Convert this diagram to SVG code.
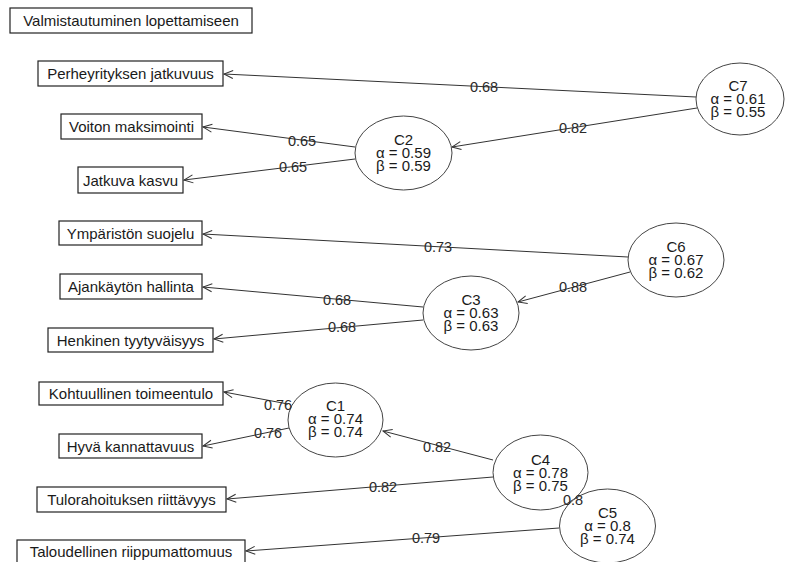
<svg xmlns="http://www.w3.org/2000/svg" width="786" height="562" viewBox="0 0 786 562">
<defs>
<marker id="arr" viewBox="-10 -6 12 12" markerWidth="12" markerHeight="12" refX="0" refY="0" orient="auto" markerUnits="userSpaceOnUse">
<path d="M-9,-4 L0,0 L-9,4" fill="none" stroke="#333" stroke-width="1"/>
</marker>
<style>
.box{fill:#fff;stroke:#222;stroke-width:1.2}
.ell{fill:#fff;stroke:#444;stroke-width:1}
.t{font-family:"Liberation Sans",Arial,sans-serif;font-size:15px;fill:#1a1a1a;text-anchor:middle}
.lab{font-family:"Liberation Sans",Arial,sans-serif;font-size:14.5px;fill:#2a2a2a;text-anchor:middle}
.e{fill:none;stroke:#333;stroke-width:1;marker-end:url(#arr)}
</style>
</defs>
<rect width="786" height="562" fill="#fff"/>
<g id="edges">
<line class="e" x1="696" y1="97" x2="224" y2="74"/>
<line class="e" x1="697" y1="108" x2="452" y2="147"/>
<line class="e" x1="355" y1="147" x2="203" y2="127"/>
<line class="e" x1="355" y1="159" x2="184" y2="180"/>
<line class="e" x1="628" y1="257" x2="203" y2="234"/>
<line class="e" x1="630" y1="272" x2="518" y2="302"/>
<line class="e" x1="423" y1="307" x2="203" y2="287"/>
<line class="e" x1="423" y1="320" x2="214" y2="339"/>
<line class="e" x1="288" y1="404" x2="224" y2="392"/>
<line class="e" x1="289" y1="428" x2="203" y2="446"/>
<line class="e" x1="493" y1="460" x2="383" y2="431"/>
<line class="e" x1="493" y1="477" x2="227" y2="499"/>
<line class="e" x1="567" y1="493" x2="574" y2="499"/>
<line class="e" x1="559" y1="528" x2="246" y2="551"/>
</g>
<g id="title"><rect class="box" x="10" y="8" width="242" height="25"/><text class="t" x="131" y="26">Valmistautuminen lopettamiseen</text></g>
<g id="n_perhe"><rect class="box" x="38" y="61" width="185" height="25"/><text class="t" x="130.5" y="79">Perheyrityksen jatkuvuus</text></g>
<g id="n_voiton"><rect class="box" x="61" y="114" width="141" height="25"/><text class="t" x="131.5" y="132">Voiton maksimointi</text></g>
<g id="n_jatkuva"><rect class="box" x="78" y="167" width="105" height="26"/><text class="t" x="130.5" y="185.5">Jatkuva kasvu</text></g>
<g id="n_ymp"><rect class="box" x="59" y="221" width="143" height="24"/><text class="t" x="130.5" y="238.5">Ympäristön suojelu</text></g>
<g id="n_ajan"><rect class="box" x="60" y="274" width="142" height="25"/><text class="t" x="131" y="292">Ajankäytön hallinta</text></g>
<g id="n_henk"><rect class="box" x="48" y="328" width="165" height="24"/><text class="t" x="130.5" y="345.5">Henkinen tyytyväisyys</text></g>
<g id="n_kohtu"><rect class="box" x="39" y="382" width="184" height="23"/><text class="t" x="131" y="399">Kohtuullinen toimeentulo</text></g>
<g id="n_hyva"><rect class="box" x="59" y="434" width="143" height="24"/><text class="t" x="130.5" y="451.5">Hyvä kannattavuus</text></g>
<g id="n_tulo"><rect class="box" x="37" y="487" width="189" height="25"/><text class="t" x="131.5" y="505">Tulorahoituksen riittävyys</text></g>
<g id="n_talo"><rect class="box" x="17" y="540" width="228" height="24"/><text class="t" x="131" y="557">Taloudellinen riippumattomuus</text></g>
<g id="C7"><ellipse class="ell" cx="740" cy="99" rx="44" ry="36"/><text class="t" x="738" y="91">C7</text><text class="t" x="738" y="104">α = 0.61</text><text class="t" x="738" y="117">β = 0.55</text></g>
<g id="C2"><ellipse class="ell" cx="403.5" cy="153" rx="48.5" ry="37"/><text class="t" x="403.5" y="145">C2</text><text class="t" x="403.5" y="158">α = 0.59</text><text class="t" x="403.5" y="171">β = 0.59</text></g>
<g id="C6"><ellipse class="ell" cx="676" cy="260" rx="48" ry="37"/><text class="t" x="676" y="252">C6</text><text class="t" x="676" y="265">α = 0.67</text><text class="t" x="676" y="278">β = 0.62</text></g>
<g id="C3"><ellipse class="ell" cx="471" cy="313" rx="48" ry="37"/><text class="t" x="471" y="305">C3</text><text class="t" x="471" y="318">α = 0.63</text><text class="t" x="471" y="331">β = 0.63</text></g>
<g id="C1"><ellipse class="ell" cx="335.5" cy="420" rx="47.5" ry="37"/><text class="t" x="335.5" y="411">C1</text><text class="t" x="335.5" y="424">α = 0.74</text><text class="t" x="335.5" y="437">β = 0.74</text></g>
<g id="C4"><ellipse class="ell" cx="540.5" cy="472.5" rx="47.5" ry="37.5"/><text class="t" x="540.5" y="464.5">C4</text><text class="t" x="540.5" y="477.5">α = 0.78</text><text class="t" x="540.5" y="490.5">β = 0.75</text></g>
<g id="C5"><ellipse class="ell" cx="607.5" cy="526" rx="48" ry="37"/><text class="t" x="607.5" y="518">C5</text><text class="t" x="607.5" y="531">α = 0.8</text><text class="t" x="607.5" y="544">β = 0.74</text></g>
<g id="edge-labels">
<text class="lab" x="484" y="92">0.68</text>
<text class="lab" x="573" y="133">0.82</text>
<text class="lab" x="302" y="146">0.65</text>
<text class="lab" x="293" y="172">0.65</text>
<text class="lab" x="438" y="252">0.73</text>
<text class="lab" x="573" y="292">0.88</text>
<text class="lab" x="337" y="305">0.68</text>
<text class="lab" x="342" y="332">0.68</text>
<text class="lab" x="278" y="410">0.76</text>
<text class="lab" x="268" y="438">0.76</text>
<text class="lab" x="437" y="452">0.82</text>
<text class="lab" x="383" y="492">0.82</text>
<text class="lab" x="573" y="505">0.8</text>
<text class="lab" x="426" y="543">0.79</text>
</g>
</svg>
